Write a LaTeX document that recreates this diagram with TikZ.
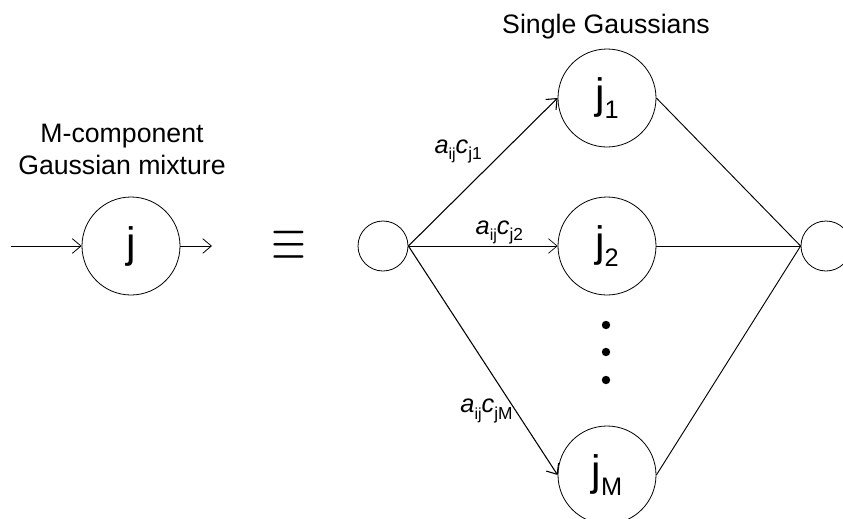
\documentclass[tikz,border=0pt]{standalone}
\usepackage{fontspec}
\setmainfont{Liberation Sans}
\usepackage{tikz}
\usetikzlibrary{arrows,arrows.meta,positioning}

\newcommand{\wlab}[1]{\textit{a}\raisebox{-0.5ex}{\fontsize{12}{12}\selectfont ij}\textit{c}\raisebox{-0.5ex}{\fontsize{13}{13}\selectfont #1}}
\newcommand{\jsub}[1]{j\raisebox{-0.45ex}{\fontsize{19}{19}\selectfont #1}}

\begin{document}
\begin{tikzpicture}[
  x=0.75pt, y=-0.75pt,
  gnode/.style={circle, draw, line width=0.6pt, minimum size=73.5pt, inner sep=0pt, font=\fontsize{32}{32}\selectfont},
  snode/.style={circle, draw, line width=0.6pt, minimum size=37.5pt, inner sep=0pt},
  lab/.style={font=\fontsize{20}{24}\selectfont, align=center},
  wlabel/.style={font=\fontsize{19}{20}\selectfont, inner sep=1pt},
  arr/.style={draw, -{Straight Barb[length=6.5pt, width=11pt]}},
  wire/.style={draw, line width=0.7pt}
]
\useasboundingbox (0,0) rectangle (843,518);

% left side: mixture state
\node[gnode] (mix) at (131,246) {j};
\node[lab] (mixlab) at (122,149) {M-component\\Gaussian mixture};
\coordinate (src) at (11,246);
\coordinate (snk) at (212,246);
\draw[arr, line width=0.6pt] (src) -- (mix);
\draw[arr, line width=0.6pt] (mix) -- (snk);
\node[font=\fontsize{29}{29}\selectfont] (eqv) at (289,246) {\scalebox{1.35}[1.9]{$\equiv$}};

% right side: single Gaussians
\node[snode] (in) at (383,246) {};
\node[snode] (out) at (826,246) {};
\node[gnode] (j1) at (607,98) {\jsub{1}};
\node[gnode] (j2) at (607,246) {\jsub{2}};
\node[gnode] (jM) at (607,475) {\jsub{M}};
\node[lab] (title) at (606,27) {Single Gaussians};

\foreach \y [count=\i] in {325,352,380}
  \fill (606,\y) circle (4.2) coordinate (dot\i);

\draw[arr, line width=0.8pt] (in.east) -- node[wlabel, pos=0.63, anchor=east, xshift=-14pt, yshift=1pt] (w1) {\wlab{j1}} (j1.west);
\draw[arr, line width=0.5pt] (in.east) -- node[wlabel, pos=0.61, anchor=south] (w2) {\wlab{j2}} (j2.west);
\draw[arr, line width=0.8pt] (in.east) -- node[wlabel, pos=0.72, anchor=east, xshift=-1pt] (w3) {\wlab{jM}} (jM.west);

\draw[wire] (j1.east) -- (out.west);
\draw[wire] (j2.east) -- (out.west);
\draw[wire] (jM.east) -- (out.west);
\end{tikzpicture}
\end{document}
